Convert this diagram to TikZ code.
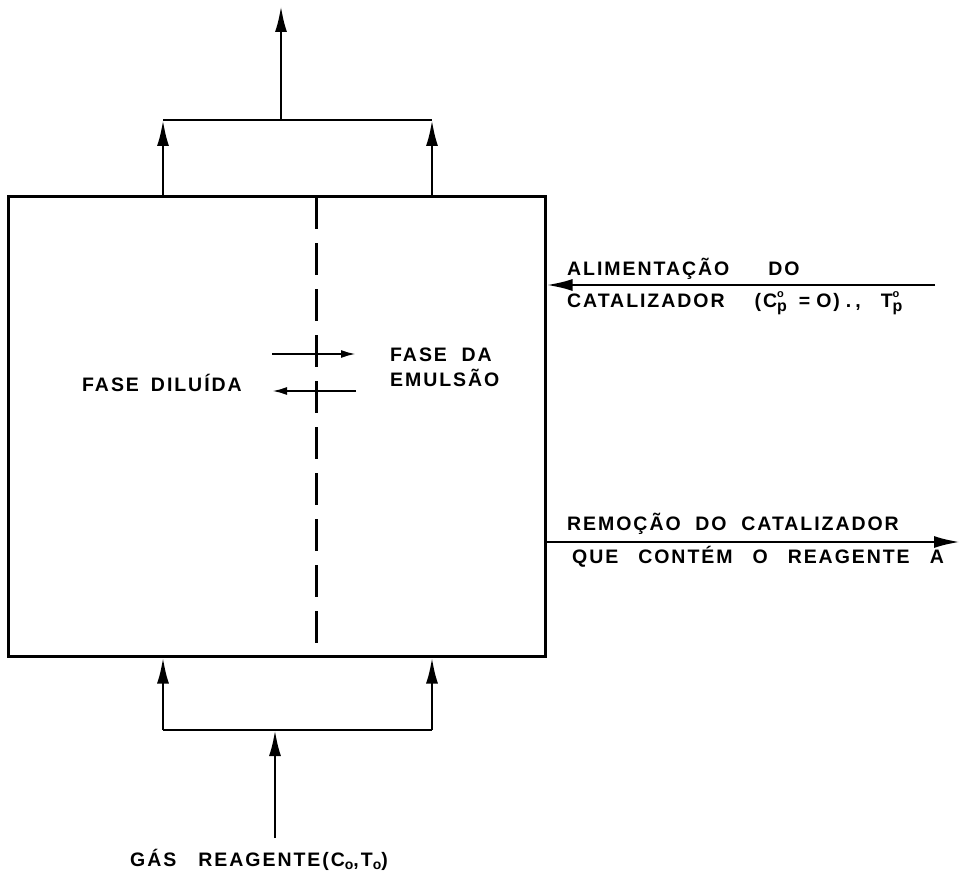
\documentclass[tikz,border=0pt]{standalone}
\usepackage{fontspec}
\setmainfont{Liberation Sans}[LetterSpace=10]
\usetikzlibrary{arrows.meta}
\newcommand{\supsubo}[1]{\rlap{\raisebox{10pt}{\fontsize{11}{11}\selectfont o}}\raisebox{-4pt}{\fontsize{16}{16}\selectfont #1}}
\begin{document}
\begin{tikzpicture}[x=1pt,y=-1pt,
  line/.style={line width=2.6pt},
  arr/.style={line width=2.6pt,-{Latex[length=26pt,width=12pt]}},
  sarr/.style={line width=2.2pt,-{Latex[length=15pt,width=8pt]}},
  lbl/.style={font=\fontsize{19.5}{22}\selectfont\bfseries, inner sep=0pt, anchor=west}]
\useasboundingbox (0,0) rectangle (962,888);
% reactor
\node[draw, line width=3pt, minimum width=537pt, minimum height=459pt, inner sep=0pt] (reactor) at (276.5,426.5) {};
% divider
\coordinate (divtop) at (316,197);
\coordinate (divbot) at (316,656);
\draw[line width=3pt, dash pattern=on 32pt off 14pt] (divtop) -- (divbot);
% top outlet
\coordinate (tl) at (163,120);
\coordinate (tr) at (432,120);
\coordinate (tc) at (281,120);
\coordinate (out) at (281,6);
\draw[line] (tl) -- (tr);
\draw[arr] (reactor.north -| tl) -- (tl);
\draw[arr] (reactor.north -| tr) -- (tr);
\draw[arr] (tc) -- (out);
% bottom inlet
\coordinate (bl) at (163,730);
\coordinate (br) at (432,730);
\coordinate (bc) at (275,730);
\coordinate (gas) at (275,838);
\draw[line] (bl) -- (br);
\draw[arr] (bl) -- (reactor.south -| bl);
\draw[arr] (br) -- (reactor.south -| br);
\draw[arr] (gas) -- (bc);
% exchange arrows
\coordinate (e1a) at (272,354);
\coordinate (e1b) at (356,354);
\coordinate (e2a) at (356,391);
\coordinate (e2b) at (272,391);
\draw[sarr] (e1a) -- (e1b);
\draw[sarr] (e2a) -- (e2b);
% feed and removal
\coordinate (feed) at (935,285);
\coordinate (rem) at (960,542);
\draw[arr] (feed) -- (reactor.east |- feed);
\draw[arr] (reactor.east |- rem) -- (rem);
% labels
\node[lbl] (dil) at (82,383) {FASE\hspace{12pt}DILUÍDA};
\node[lbl] (fda) at (390,355) {FASE\ \ DA};
\node[lbl] (emu) at (390,378) {EMULSÃO};
\node[lbl] (ali) at (567,269) {ALIMENTAÇÃO\qquad DO};
\node[lbl] (cat) at (567,303) {CATALIZADOR\hspace{30pt}(C\supsubo{p}\hspace{12pt}=\hspace{6pt}O)\hspace{6pt}.\hspace{4pt},\hspace{20pt}T\supsubo{p}};
\node[lbl] (rmo) at (567,524) {REMOÇÃO\ \ DO\ \ CATALIZADOR};
\node[lbl] (que) at (572,557) {QUE\hspace{20pt}CONTÉM\hspace{20pt}O\hspace{20pt}REAGENTE\hspace{20pt}A};
\node[lbl] (gl) at (130,860) {GÁS\ \ \ REAGENTE(C\raisebox{-3pt}{\fontsize{14}{14}\selectfont o},T\raisebox{-3pt}{\fontsize{14}{14}\selectfont o})};
\end{tikzpicture}
\end{document}
